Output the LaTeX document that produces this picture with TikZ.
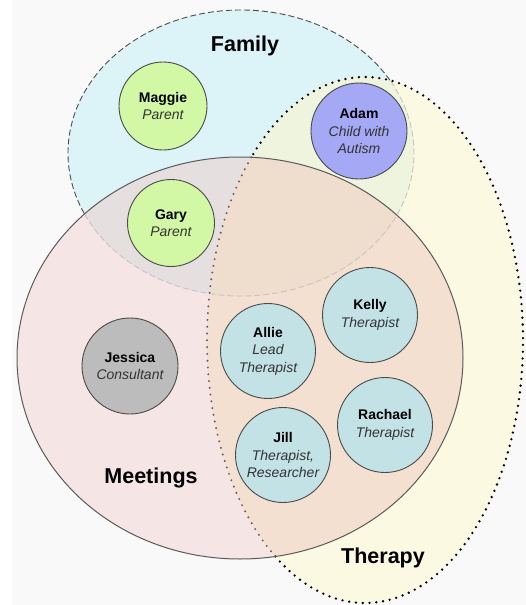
\documentclass[tikz,border=0pt]{standalone}
\usepackage{fontspec}
\newfontfamily\arialf{Liberation Sans}
\definecolor{bgcol}{HTML}{F9F9F9}
\definecolor{famfill}{HTML}{DCF3F8}
\definecolor{therfill}{HTML}{FBF9E1}
\definecolor{meetfill}{HTML}{F6E5E5}
\definecolor{ftfill}{HTML}{EEF4DD}
\definecolor{fmfill}{HTML}{E5DFDF}
\definecolor{mtfill}{HTML}{F3E0D0}
\definecolor{fmtfill}{HTML}{EFDDCE}
\definecolor{famline}{HTML}{4D4D4D}
\definecolor{famfade}{HTML}{C9C3C0}
\definecolor{therfade}{HTML}{6F5A57}
\definecolor{meetline}{HTML}{5B5B5B}
\definecolor{circline}{HTML}{4A4A4A}
\definecolor{rolecol}{HTML}{333333}
\definecolor{greenfill}{HTML}{D2F7A5}
\definecolor{adamfill}{HTML}{A5A8F5}
\definecolor{grayfill}{HTML}{BCBCBC}
\definecolor{bluefill}{HTML}{C3E2E6}
\newcommand\famshape{(241,153) ellipse [x radius=173pt, y radius=143pt]}
\newcommand\thershape{(365,340) ellipse [x radius=158pt, y radius=263pt]}
\newcommand\meetshape{(240,358) ellipse [x radius=223pt, y radius=201pt]}
\newcommand\role[1]{{\color{rolecol}\itshape #1}}
\begin{document}
\begin{tikzpicture}[x=1pt,y=-1pt,
  person/.style={circle, draw=circline, line width=0.9pt, inner sep=0pt,
    align=center, font=\arialf\fontsize{14}{17.5}\selectfont},
  setlabel/.style={anchor=base, font=\arialf\bfseries\fontsize{21.5}{26}\selectfont},
  famstroke/.style={line width=0.9pt, dash pattern=on 6pt off 3pt},
  therstroke/.style={line width=2.6pt, dash pattern=on 0pt off 6.8pt, line cap=round},
]
\useasboundingbox (0,0) rectangle (526,605);
\fill[bgcol] (0,0) rectangle (526,605);
\fill[white] (0,0) rectangle (12,605);
% fills
\fill[famfill] \famshape;
\fill[therfill] \thershape;
\fill[meetfill] \meetshape;
\begin{scope}\clip \famshape; \fill[ftfill] \thershape; \end{scope}
\begin{scope}\clip \famshape; \fill[fmfill] \meetshape; \end{scope}
\begin{scope}\clip \meetshape; \fill[mtfill] \thershape; \end{scope}
\begin{scope}\clip \famshape; \clip \meetshape; \fill[fmtfill] \thershape; \end{scope}
% family outline
\draw[famstroke, famline] ([shift={(241,153)}] 30.6:173pt and 143pt)
  arc[start angle=30.6, end angle=205.3, x radius=173pt, y radius=143pt];
\draw[famstroke, famfade] ([shift={(241,153)}] 205.3:173pt and 143pt)
  arc[start angle=205.3, end angle=390.6, x radius=173pt, y radius=143pt];
% therapy outline
\draw[therstroke, black] ([shift={(365,340)}] 235.4:158pt and 263pt)
  arc[start angle=235.4, end angle=496, x radius=158pt, y radius=263pt];
\draw[therstroke, therfade, line width=2.2pt] ([shift={(365,340)}] 136:158pt and 263pt)
  arc[start angle=136, end angle=235.4, x radius=158pt, y radius=263pt];
% meetings outline
\draw[meetline, line width=1pt] \meetshape;
% labels
\node[setlabel] (famlabel) at (245,51.5) {Family};
\node[setlabel] (meetlabel) at (151,483) {Meetings};
\node[setlabel] (therlabel) at (383,563) {Therapy};
% people
\node[person, fill=greenfill, minimum size=88pt] (maggie) at (163,106) {\textbf{Maggie}\\\role{Parent}};
\node[person, fill=greenfill, minimum size=87pt] (gary) at (171,223) {\textbf{Gary}\\\role{Parent}};
\node[person, fill=adamfill, minimum size=96pt] (adam) at (359,131) {\textbf{Adam}\\\role{Child with}\\\role{Autism}};
\node[person, fill=grayfill, minimum size=96pt] (jessica) at (130,366) {\textbf{Jessica}\\\role{Consultant}};
\node[person, fill=bluefill, minimum size=95pt] (allie) at (268,351) {\textbf{Allie}\\\role{Lead}\\\role{Therapist}};
\node[person, fill=bluefill, minimum size=95pt] (kelly) at (370,315) {\textbf{Kelly}\\\role{Therapist}};
\node[person, fill=bluefill, minimum size=95pt] (jill) at (283,455) {\textbf{Jill}\\\role{Therapist,}\\\role{Researcher}};
\node[person, fill=bluefill, minimum size=95pt] (rachael) at (385,425) {\textbf{Rachael}\\\role{Therapist}};
\end{tikzpicture}
\end{document}
